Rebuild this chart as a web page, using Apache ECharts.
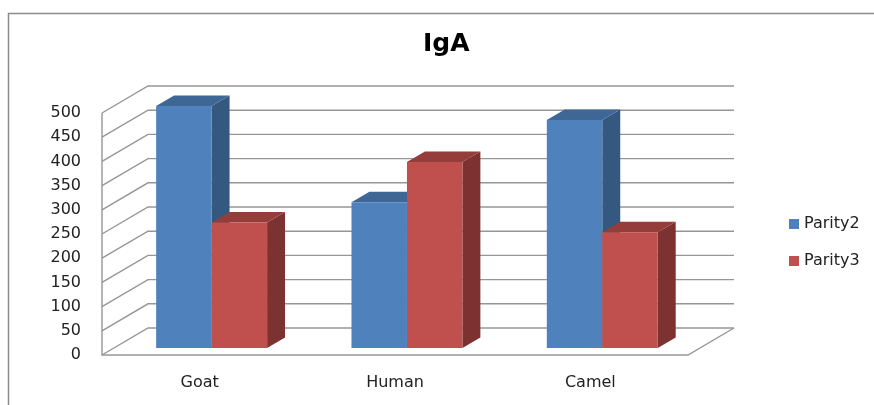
<!DOCTYPE html>
<html>
<head>
<meta charset="utf-8">
<script src="https://cdn.jsdelivr.net/npm/echarts@6/dist/echarts.min.js"></script>
<style>
  html, body { margin: 0; padding: 0; background: #fff; }
  #chart { width: 874px; height: 405px; }
</style>
</head>
<body>
<div id="chart"></div>
<script>
// Chart data
const categories = ['Goat', 'Human', 'Camel'];
const parity2 = [500, 301, 471];
const parity3 = [259, 384, 239];
const yTicks = [0, 50, 100, 150, 200, 250, 300, 350, 400, 450, 500];
const seriesNames = ['Parity2', 'Parity3'];

// Pseudo-3D projection: offset of the back plane relative to the front plane
const DEPTH_X = 46;
const DEPTH_Y = -27;
const BAR_FRONT = 0.26;   // fraction of depth where the bar front face sits
const BAR_DEPTH = 0.39;   // bar depth as a fraction of the full depth
const BAR_WIDTH = 0.284;  // bar width as a fraction of a category band

const palette = [
  { front: '#4F81BD', top: '#3E6795', side: '#34587F' },
  { front: '#C0504D', top: '#943D3B', side: '#7B3230' }
];

const gridColor = '#969696';

function bandEdges(api, v) {
  const bw = api.size([1, 0])[0];
  const left = api.coord([0, v])[0] - bw / 2;
  const right = api.coord([categories.length - 1, v])[0] + bw / 2;
  return { left, right, bw };
}

// Walls and floor: one polyline per y tick value
function renderWalls(params, api) {
  const v = api.value(1);
  const y = api.coord([0, v])[1];
  const e = bandEdges(api, v);
  const lineStyle = { stroke: gridColor, lineWidth: 1.4, fill: null };
  const children = [{
    type: 'polyline',
    shape: { points: [[e.left, y], [e.left + DEPTH_X, y + DEPTH_Y], [e.right + DEPTH_X, y + DEPTH_Y]] },
    style: lineStyle,
    silent: true
  }];
  if (v === yTicks[0]) {
    const yTop = api.coord([0, yTicks[yTicks.length - 1]])[1];
    children.push({
      type: 'polyline',
      shape: { points: [[e.left, yTop], [e.left, y], [e.right, y], [e.right + DEPTH_X, y + DEPTH_Y]] },
      style: lineStyle,
      silent: true
    });
  }
  return { type: 'group', children };
}

// 3D-looking column: front face, top face and right side face
function makeBarRenderer(seriesIndex) {
  const col = palette[seriesIndex];
  return function (params, api) {
    const cat = api.value(0);
    const val = api.value(1);
    const bw = api.size([1, 0])[0];
    const cx = api.coord([cat, 0])[0];
    const barW = bw * BAR_WIDTH;
    const ox = DEPTH_X * BAR_FRONT;
    const oy = DEPTH_Y * BAR_FRONT;
    const ddx = DEPTH_X * BAR_DEPTH;
    const ddy = DEPTH_Y * BAR_DEPTH;
    const x0 = cx - barW + seriesIndex * barW + ox;
    const x1 = x0 + barW;
    const yb = api.coord([cat, 0])[1] + oy;
    const yt = api.coord([cat, val])[1] + oy;
    return {
      type: 'group',
      children: [
        {
          type: 'polygon',
          shape: { points: [[x1, yt], [x1 + ddx, yt + ddy], [x1 + ddx, yb + ddy], [x1, yb]] },
          style: { fill: col.side }
        },
        {
          type: 'polygon',
          shape: { points: [[x0, yt], [x1, yt], [x1 + ddx, yt + ddy], [x0 + ddx, yt + ddy]] },
          style: { fill: col.top }
        },
        {
          type: 'rect',
          shape: { x: x0, y: yt, width: barW, height: yb - yt },
          style: { fill: col.front }
        }
      ]
    };
  };
}

const chart = echarts.init(document.getElementById('chart'), null, { renderer: 'canvas' });

const font = 'DejaVu Sans, Verdana, sans-serif';

chart.setOption({
  backgroundColor: '#ffffff',
  animation: false,
  title: {
    text: 'IgA',
    left: 423,
    top: 32,
    padding: 0,
    textStyle: { fontFamily: font, fontWeight: 'bold', fontSize: 25, color: '#000' }
  },
  legend: {
    orient: 'vertical',
    left: 789,
    top: 216,
    itemWidth: 10,
    itemHeight: 10,
    itemGap: 21,
    padding: 0,
    icon: 'rect',
    data: seriesNames,
    textStyle: { fontFamily: font, fontSize: 16, color: '#222', lineHeight: 16 }
  },
  graphic: [{
    type: 'rect',
    left: 6,
    top: 11,
    shape: { width: 900, height: 420 },
    style: { fill: null, stroke: '#8c8c8c', lineWidth: 1.5 },
    silent: true,
    z: -10
  }],
  grid: { left: 102, right: 186, top: 113, bottom: 50 },
  xAxis: {
    type: 'category',
    data: categories,
    axisLine: { show: false },
    axisTick: { show: false },
    axisLabel: { margin: 20, fontFamily: font, fontSize: 16, color: '#222' }
  },
  yAxis: {
    type: 'value',
    min: 0,
    max: 500,
    interval: 50,
    axisLine: { show: false },
    axisTick: { show: false },
    splitLine: { show: false },
    axisLabel: { margin: 21, fontFamily: font, fontSize: 16, color: '#222' }
  },
  series: [
    {
      type: 'custom',
      name: 'walls',
      renderItem: renderWalls,
      data: yTicks.map(v => [0, v]),
      silent: true,
      z: 1
    },
    {
      type: 'custom',
      name: seriesNames[0],
      renderItem: makeBarRenderer(0),
      itemStyle: { color: palette[0].front },
      data: parity2.map((v, i) => [i, v]),
      z: 2
    },
    {
      type: 'custom',
      name: seriesNames[1],
      renderItem: makeBarRenderer(1),
      itemStyle: { color: palette[1].front },
      data: parity3.map((v, i) => [i, v]),
      z: 3
    }
  ]
});
</script>
</body>
</html>
